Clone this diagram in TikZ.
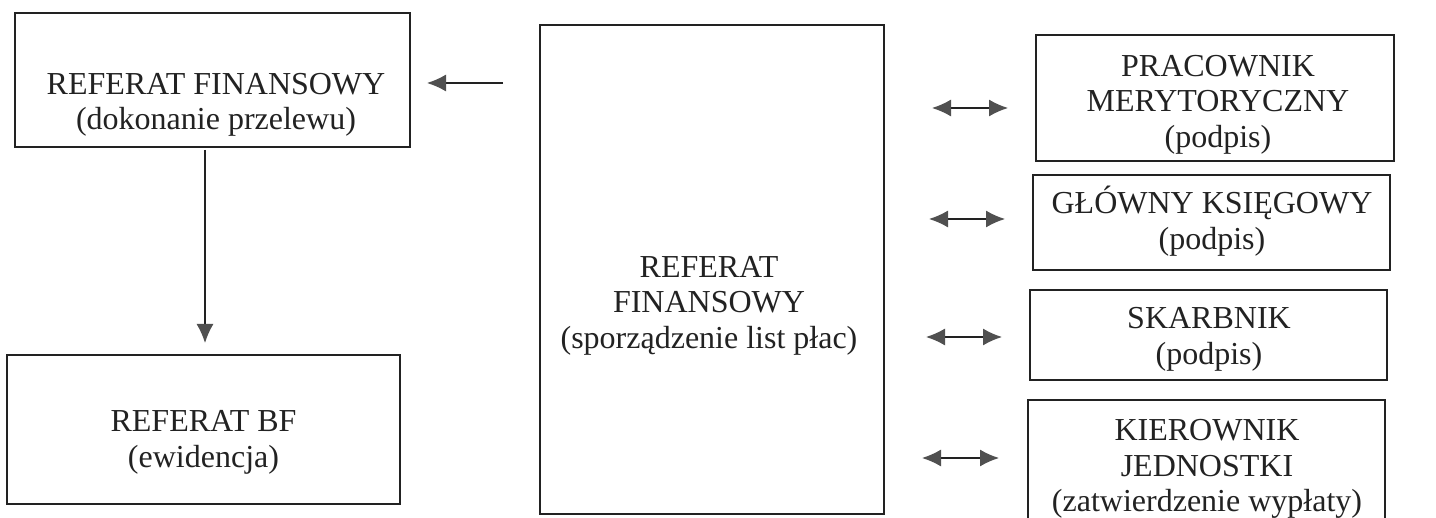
\documentclass[tikz,border=0pt]{standalone}
\usepackage{fontspec}
\setmainfont{Liberation Serif}
\usetikzlibrary{arrows.meta}
\newcommand{\mytop}{\rule{0pt}{30pt}}
\newcommand{\mybot}{\rule[-8pt]{0pt}{8pt}}
\definecolor{ink}{HTML}{222222}
\definecolor{tipc}{HTML}{505050}
\tikzset{
  box/.style={draw=ink, line width=1.5pt, inner sep=0pt, rectangle},
  txt/.style={align=center, inner sep=0pt, text=ink, font=\fontsize{32}{35.5}\selectfont},
  arr/.style={draw=ink, line width=1.4pt, -{Latex[length=19pt,width=17pt,fill=tipc,color=tipc]}},
  darr/.style={draw=ink, line width=1.4pt, {Latex[length=19pt,width=17pt,fill=tipc,color=tipc]}-{Latex[length=19pt,width=17pt,fill=tipc,color=tipc]}}
}
\begin{document}
\begin{tikzpicture}[x=1pt,y=-1pt]
\useasboundingbox (0,0) rectangle (1436,518);
\fill[white] (0,0) rectangle (1436,518);
\clip (0,0) rectangle (1436,518);
% boxes
\node[box, minimum width=395pt, minimum height=134pt] (A) at (212.5,80) {};
\node[box, minimum width=393pt, minimum height=149pt] (B) at (203.5,429.5) {};
\node[box, minimum width=344pt, minimum height=489pt] (C) at (712,269.5) {};
\node[box, minimum width=358pt, minimum height=126pt] (R1) at (1215,98) {};
\node[box, minimum width=357pt, minimum height=95pt] (R2) at (1211.5,222.5) {};
\node[box, minimum width=357pt, minimum height=90pt] (R3) at (1208.5,335) {};
\node[box, minimum width=357pt, minimum height=200pt] (R4) at (1206.5,500) {};
% texts
\node[txt] (tA) at (216,101) {\mytop REFERAT FINANSOWY\\(dokonanie przelewu)\mybot};
\node[txt] (tB) at (203.5,438.5) {\mytop REFERAT BF\\(ewidencja)\mybot};
\node[txt] (tC) at (709,302) {\mytop REFERAT\\FINANSOWY\\(sporządzenie list płac)\mybot};
\node[txt] (tR1) at (1218,101) {\mytop PRACOWNIK\\MERYTORYCZNY\\(podpis)\mybot};
\node[txt] (tR2) at (1212,220.5) {\mytop GŁÓWNY KSIĘGOWY\\(podpis)\mybot};
\node[txt] (tR3) at (1209,335.5) {\mytop SKARBNIK\\(podpis)\mybot};
\node[txt] (tR4) at (1207,465) {\mytop KIEROWNIK\\JEDNOSTKI\\(zatwierdzenie wypłaty)\mybot};
% connector end points
\coordinate (l1) at (503,83);
\coordinate (l2) at (427,83);
\coordinate (v1) at (205,150);
\coordinate (v2) at (205,343);
\coordinate (d1a) at (932,108);  \coordinate (d1b) at (1008,108);
\coordinate (d2a) at (929,219);  \coordinate (d2b) at (1005,219);
\coordinate (d3a) at (926,337);  \coordinate (d3b) at (1002,337);
\coordinate (d4a) at (922,458);  \coordinate (d4b) at (999,458);
% connectors
\draw[arr] (l1) -- (l2);
\draw[arr] (v1) -- (v2);
\draw[darr] (d1a) -- (d1b);
\draw[darr] (d2a) -- (d2b);
\draw[darr] (d3a) -- (d3b);
\draw[darr] (d4a) -- (d4b);
\end{tikzpicture}
\end{document}
